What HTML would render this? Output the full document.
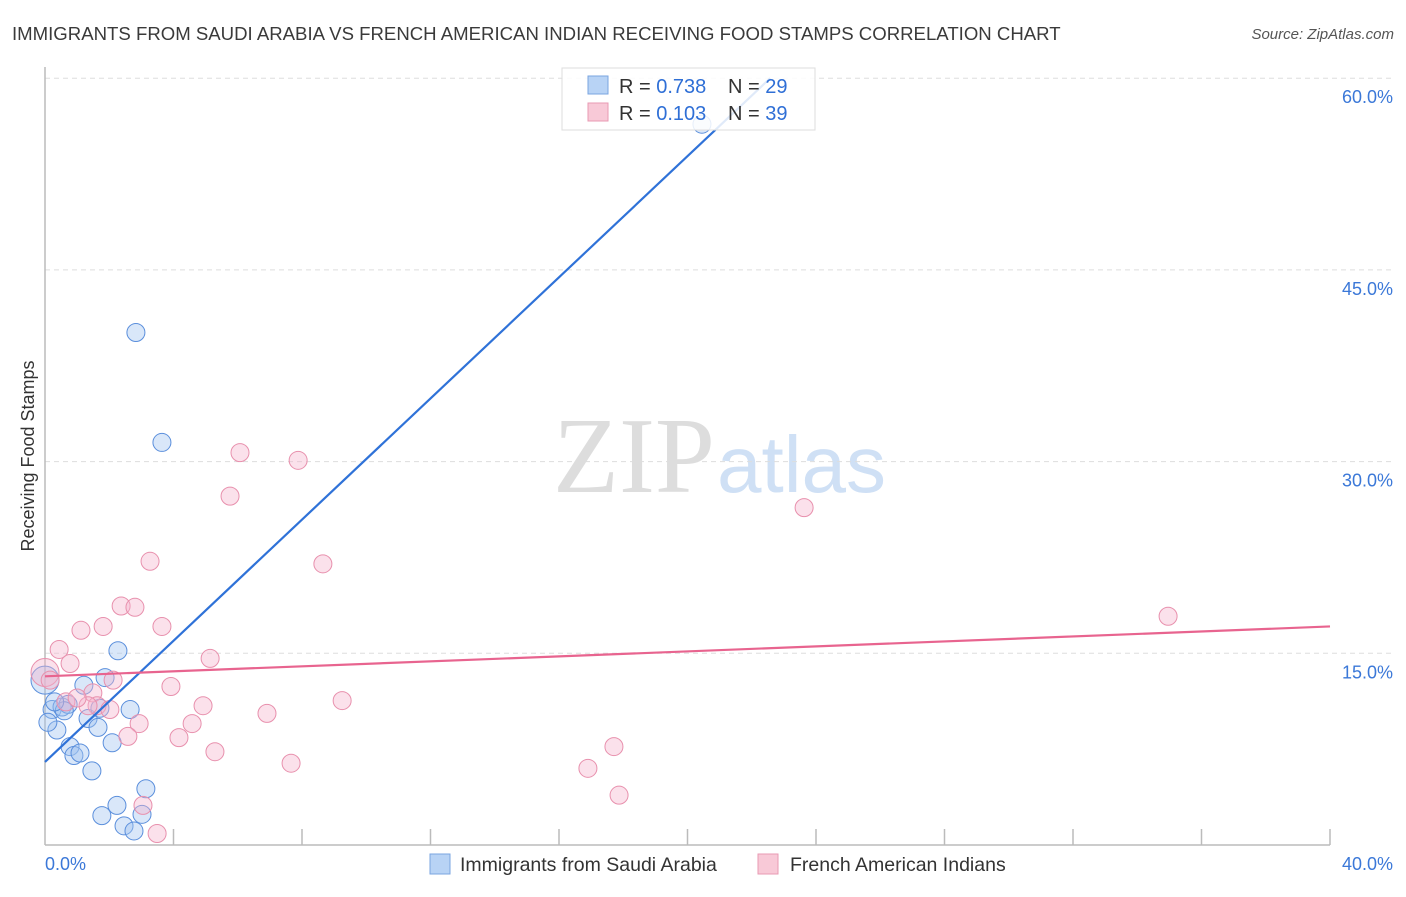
<!DOCTYPE html>
<html><head><meta charset="utf-8"><style>
body{margin:0;background:#fff;font-family:"Liberation Sans",sans-serif;}
</style></head><body>
<svg width="1406" height="892" xmlns="http://www.w3.org/2000/svg" id="chart">
<text x="12" y="40" font-size="18.6" fill="#3a3a3a">IMMIGRANTS FROM SAUDI ARABIA VS FRENCH AMERICAN INDIAN RECEIVING FOOD STAMPS CORRELATION CHART</text>
<text x="1394" y="39" font-size="15" fill="#555" font-style="italic" text-anchor="end">Source: ZipAtlas.com</text>
<text x="34" y="456" font-size="18" fill="#333" text-anchor="middle" transform="rotate(-90 34 456)">Receiving Food Stamps</text>
<text x="553" y="492" font-size="108" fill="#ddd" font-family="Liberation Serif,serif">ZIP</text>
<text x="717" y="492" font-size="80" fill="#cfe0f5">atlas</text>
<g id="grid"></g><g id="pts"></g><g id="lines"></g>
<g>
<rect x="562" y="68" width="253" height="62" fill="#fff" fill-opacity="0.85" stroke="#ddd"/>
<rect x="588" y="76" width="20" height="18" fill="#b8d3f5" stroke="#7aa5e0"/>
<rect x="588" y="103" width="20" height="18" fill="#f8c9d7" stroke="#e89ab3"/>
<text x="619" y="93" font-size="20" fill="#333">R = <tspan fill="#2f6fd6">0.738</tspan></text>
<text x="728" y="93" font-size="20" fill="#333">N = <tspan fill="#2f6fd6">29</tspan></text>
<text x="619" y="120" font-size="20" fill="#333">R = <tspan fill="#2f6fd6">0.103</tspan></text>
<text x="728" y="120" font-size="20" fill="#333">N = <tspan fill="#2f6fd6">39</tspan></text>
</g>
<g>
<rect x="430" y="854" width="20" height="20" fill="#b8d3f5" stroke="#7aa5e0"/>
<text x="460" y="871" font-size="19.5" fill="#333">Immigrants from Saudi Arabia</text>
<rect x="758" y="854" width="20" height="20" fill="#f8c9d7" stroke="#e89ab3"/>
<text x="790" y="871" font-size="19.5" fill="#333">French American Indians</text>
</g>
</svg>
<script>
const yTicks=[15,30,45,60];
const yTickLabels=["15.0%","30.0%","45.0%","60.0%"];
const xTickLabels=["0.0%","40.0%"];
const blueX=[2.83,3.64,20.45,2.27,1.87,1.21,0.22,0.53,0.72,1.34,1.71,2.65,1.65,0.37,0.78,0.90,1.09,2.09,1.46,3.14,2.24,1.77,2.46,2.77,3.02,0,0.09,0.6,0.3];
const blueY=[40.1,31.5,56.4,15.2,13.1,12.5,10.6,10.8,11.0,9.9,10.7,10.6,9.2,9.0,7.7,7.0,7.2,8.0,5.8,4.4,3.1,2.3,1.5,1.1,2.4,12.9,9.6,10.5,11.2];
const pinkX=[6.07,7.88,5.76,23.63,8.65,3.27,2.37,2.80,1.12,1.81,3.64,0.44,0.78,5.14,34.96,0,0.16,1.49,2.12,3.92,0.65,1.62,2.02,4.92,9.25,6.91,4.58,2.93,4.17,2.58,5.29,7.66,17.71,16.9,17.87,3.05,3.49,1.34,1.0];
const pinkY=[30.7,30.1,27.3,26.4,22.0,22.2,18.7,18.6,16.8,17.1,17.1,15.3,14.2,14.6,17.9,13.5,12.9,11.9,12.9,12.4,11.2,10.9,10.6,10.9,11.3,10.3,9.5,9.5,8.4,8.5,7.3,6.4,7.7,6.0,3.9,3.1,0.9,10.9,11.5];
const blueFit=[6.5,2.37];
const pinkFit=[13.2,0.0975];
const X0=45,X1=1330,Y0=845,YS=191.7/15;
const sx=v=>X0+(X1-X0)*v/40, sy=v=>Y0-v*YS;
const NS="http://www.w3.org/2000/svg";
function mk(t,a,p){const e=document.createElementNS(NS,t);for(const k in a)e.setAttribute(k,a[k]);p.appendChild(e);return e;}
const grid=document.getElementById('grid'),pts=document.getElementById('pts'),lines=document.getElementById('lines');
yTicks.forEach((t,i)=>{
 const l=mk('line',{x1:X0,x2:1394,y1:sy(t),y2:sy(t),stroke:'#ddd','stroke-dasharray':'5,4'},grid);
 
 
 const tx=mk('text',{x:1393,y:sy(t)+25,'font-size':18,fill:'#3b78d8','text-anchor':'end'},grid);
 tx.textContent=yTickLabels[i];
 
 
});
const ax=mk('line',{x1:X0,x2:X0,y1:67,y2:Y0,stroke:'#bbb','stroke-width':1.5},grid);


const bx=mk('line',{x1:X0,x2:X1,y1:Y0,y2:Y0,stroke:'#bbb','stroke-width':1.5},grid);


for(let i=1;i<=10;i++){const v=i*4;const t=mk('line',{x1:sx(v),x2:sx(v),y1:Y0-16,y2:Y0,stroke:'#bbb','stroke-width':1.5},grid);
 
 }
[[0,'start',45],[40,'end',1393]].forEach((d,i)=>{const t=mk('text',{x:d[2],y:870,'font-size':18,fill:'#3b78d8','text-anchor':d[1]},grid);t.textContent=xTickLabels[i];
 
 });
blueX.forEach((x,i)=>{const c=mk('circle',{cx:sx(x),cy:sy(blueY[i]),r:(x===0?14:9),fill:'rgba(160,196,240,0.4)',stroke:'#5b8fdc','stroke-width':1},pts);
 
 });
pinkX.forEach((x,i)=>{const c=mk('circle',{cx:sx(x),cy:sy(pinkY[i]),r:(x===0?14:9),fill:'rgba(245,180,204,0.4)',stroke:'#e890ad','stroke-width':1},pts);
 
 });
const bEnd=(60-blueFit[0])/blueFit[1];
const bl=mk('line',{x1:sx(0),y1:sy(blueFit[0]),x2:sx(bEnd),y2:sy(60),stroke:'#2f72d8','stroke-width':2.2},lines);


const pl=mk('line',{x1:sx(0),y1:sy(pinkFit[0]),x2:sx(40),y2:sy(pinkFit[0]+40*pinkFit[1]),stroke:'#e8648f','stroke-width':2.2},lines);


</script>
</body></html>
